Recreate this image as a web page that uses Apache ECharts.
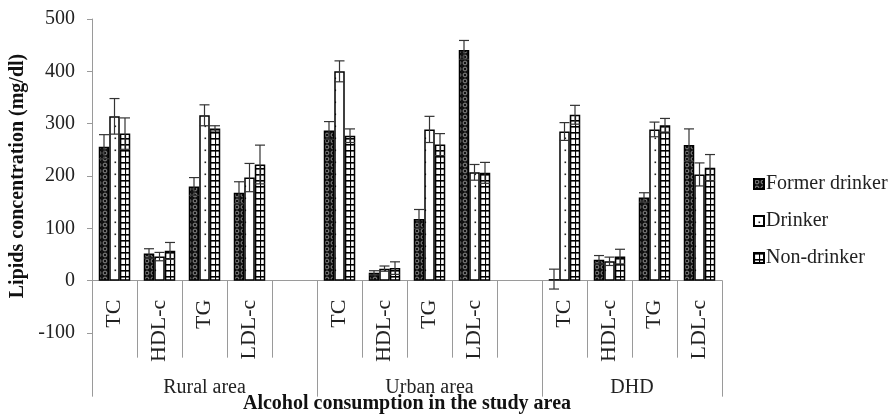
<!DOCTYPE html>
<html>
<head>
<meta charset="utf-8">
<script src="https://cdn.jsdelivr.net/npm/echarts@6/dist/echarts.min.js"></script>
<style>
  html, body { margin: 0; padding: 0; background: #fff; }
  #chart { width: 896px; height: 418px; }
</style>
</head>
<body>
<div id="chart"></div>
<script>
// Lipid profile by drinking status, three study areas (mean ± SD)
const categories = ['TC', 'HDL-c', 'TG', 'LDL-c', '', 'TC', 'HDL-c', 'TG', 'LDL-c', '', 'TC', 'HDL-c', 'TG', 'LDL-c'];
const groups = ['Rural area', 'Urban area', 'DHD'];
const groupSizes = [5, 5, 4];
const seriesNames = ['Former drinker', 'Drinker', 'Non-drinker'];

const formerDrinker = [256, 52, 180, 168, null, 287, 15, 118, 441, null, 3, 40, 159, 259];
const formerDrinkerSD = [23, 9, 17, 21, null, 17, 4, 18, 18, null, 19, 8, 9, 31];
const drinker = [314, 46, 316, 197, null, 400, 23, 289, 207, null, 285, 37, 289, 203];
const drinkerSD = [34, 8, 20, 27, null, 20, 5, 25, 15, null, 17, 8, 14, 22];
const nonDrinker = [281, 57, 291, 222, null, 277, 24, 260, 206, null, 317, 46, 297, 216];
const nonDrinkerSD = [30, 16, 5, 37, null, 13, 12, 21, 20, null, 18, 14, 13, 25];

const yTicks = [-100, 0, 100, 200, 300, 400, 500];

// Small tiles used as bar fill patterns
function tile(w, h, draw) {
  const c = document.createElement('canvas');
  c.width = w; c.height = h;
  draw(c.getContext('2d'));
  return { image: c, repeat: 'repeat' };
}
const formerFill = tile(6, 6, ctx => {
  ctx.fillStyle = '#111'; ctx.fillRect(0, 0, 6, 6);
  ctx.strokeStyle = '#8c8c8c'; ctx.lineWidth = 1;
  ctx.beginPath(); ctx.arc(3, 3, 1.9, 0, Math.PI * 2); ctx.stroke();
});
const drinkerFill = tile(10, 12, ctx => {
  ctx.fillStyle = '#fff'; ctx.fillRect(0, 0, 10, 12);
  ctx.fillStyle = '#222'; ctx.fillRect(4.5, 5.5, 1.6, 1.6);
});
const nonDrinkerFill = tile(5, 6, ctx => {
  ctx.fillStyle = '#000'; ctx.fillRect(0, 0, 5, 6);
  ctx.fillStyle = '#fff'; ctx.fillRect(1.1, 1.6, 3.9, 4.4);
});
const fills = [formerFill, drinkerFill, nonDrinkerFill];
const means = [formerDrinker, drinker, nonDrinker];
const sds = [formerDrinkerSD, drinkerSD, nonDrinkerSD];

// Group boundaries and centres along the category scale
const groupEdges = [0];
groupSizes.forEach(s => groupEdges.push(groupEdges[groupEdges.length - 1] + s));
const groupCentres = groups.map((g, i) => (groupEdges[i] + groupEdges[i + 1]) / 2);

const serif = 'Liberation Serif, Times New Roman, serif';
const barCategoryGap = 0.3;

// Plot area; both horizontal axes are lifted from the plot bottom up to the zero line
const gridBox = { left: 92, right: 174, top: 19, bottom: 85 };
const plotHeight = 418 - gridBox.top - gridBox.bottom;
const yMin = yTicks[0], yMax = yTicks[yTicks.length - 1];
const zeroLift = plotHeight * (0 - yMin) / (yMax - yMin);

const barSeries = seriesNames.map((name, i) => ({
  name: name,
  type: 'bar',
  xAxisIndex: 0,
  data: means[i],
  barGap: '0%',
  barCategoryGap: (barCategoryGap * 100) + '%',
  itemStyle: { color: fills[i], borderColor: '#000', borderWidth: 1.5 },
  z: 2
}));

const errorSeries = seriesNames.map((name, i) => ({
  name: name + ' SD',
  type: 'custom',
  xAxisIndex: 0,
  z: 5,
  silent: true,
  data: means[i].map((m, k) => m == null ? null : [k, m, sds[i][k]]),
  renderItem: function (params, api) {
    const k = api.value(0), m = api.value(1), sd = api.value(2);
    const band = api.size([1, 0])[0];
    const bw = band * (1 - barCategoryGap) / 3;
    const centre = api.coord([k, m])[0] + (i - 1) * bw;
    const top = api.coord([k, m + sd])[1];
    const bottom = api.coord([k, m - sd])[1];
    const cap = 5;
    const style = { stroke: '#333', lineWidth: 1.2, fill: null };
    return {
      type: 'group',
      children: [
        { type: 'line', shape: { x1: centre, y1: top, x2: centre, y2: bottom }, style: style },
        { type: 'line', shape: { x1: centre - cap, y1: top, x2: centre + cap, y2: top }, style: style },
        { type: 'line', shape: { x1: centre - cap, y1: bottom, x2: centre + cap, y2: bottom }, style: style }
      ]
    };
  }
}));

const chart = echarts.init(document.getElementById('chart'), null, { renderer: 'canvas' });
chart.setOption({
  animation: false,
  backgroundColor: '#fff',
  grid: Object.assign({ containLabel: false, outerBoundsMode: 'none' }, gridBox),
  legend: {
    data: seriesNames,
    orient: 'vertical',
    left: 748,
    top: 169,
    icon: 'rect',
    itemWidth: 10,
    itemHeight: 10,
    itemGap: 17,
    textStyle: { fontFamily: serif, fontSize: 20, color: '#222', padding: [0, 0, 0, -3] }
  },
  xAxis: [
    {
      type: 'category',
      data: categories,
      position: 'bottom',
      offset: -zeroLift,
      axisLine: { onZero: false, lineStyle: { color: '#9a9a9a', width: 1 } },
      axisTick: { show: true, interval: 0, length: 77, lineStyle: { color: '#9a9a9a', width: 1 } },
      axisLabel: { interval: 0, rotate: 90, margin: 19, fontFamily: serif, fontSize: 22, color: '#222' },
      splitLine: { show: false }
    },
    {
      type: 'value',
      min: 0,
      max: groupEdges[groupEdges.length - 1],
      position: 'bottom',
      offset: -zeroLift,
      axisLine: { show: false, onZero: false },
      axisTick: { show: true, customValues: groupEdges, length: 116, lineStyle: { color: '#9a9a9a', width: 1 } },
      axisLabel: {
        show: true,
        customValues: groupCentres,
        margin: 97,
        fontFamily: serif,
        fontSize: 20,
        color: '#222',
        formatter: v => groups[groupCentres.indexOf(v)] || ''
      },
      splitLine: { show: false },
      name: 'Alcohol consumption in the study area',
      nameLocation: 'middle',
      nameGap: 113,
      nameMoveOverlap: false,
      nameTextStyle: { fontFamily: serif, fontSize: 20, fontWeight: 'bold', color: '#111', verticalAlign: 'top' }
    }
  ],
  yAxis: {
    type: 'value',
    min: yMin,
    max: yMax,
    interval: 100,
    axisLine: { show: true, onZero: false, lineStyle: { color: '#9a9a9a', width: 1 } },
    axisTick: { show: true, length: 5, lineStyle: { color: '#9a9a9a' } },
    axisLabel: { margin: 17, fontFamily: serif, fontSize: 20, color: '#222' },
    splitLine: { show: false },
    name: 'Lipids concentration (mg/dl)',
    nameLocation: 'middle',
    nameRotate: 90,
    nameGap: 62,
    nameTextStyle: { fontFamily: serif, fontSize: 20, fontWeight: 'bold', color: '#111' }
  },
  series: barSeries.concat(errorSeries)
});
</script>
</body>
</html>
